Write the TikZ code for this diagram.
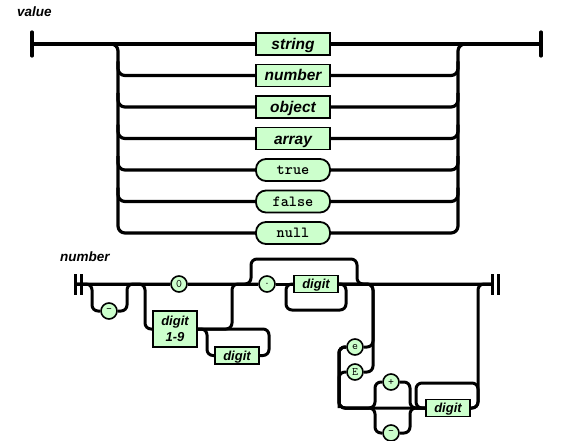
\documentclass[tikz,border=0pt]{standalone}
\usepackage{fontspec}
\setsansfont{Liberation Sans}
\usepackage{tikz}
\definecolor{railgreen}{HTML}{CCFFCC}

\begin{document}
\begin{tikzpicture}[x=1pt,y=-1pt,
  rail/.style={line width=3.2pt,rounded corners=7pt},
  nrail/.style={line width=3pt,rounded corners=6pt},
  endbar/.style={line width=3.2pt,line cap=round},
  title/.style={anchor=west,inner sep=0pt,font=\sffamily\bfseries\itshape\fontsize{13.5}{13.5}\selectfont},
  nonterm/.style={draw,line width=1.8pt,fill=railgreen,minimum width=74pt,minimum height=22pt,inner sep=0pt,text height=11pt,text depth=0pt,font=\sffamily\bfseries\itshape\fontsize{15.5}{15.5}\selectfont},
  term/.style={nonterm,rounded corners=10pt,text height=9pt,font=\ttfamily\bfseries\fontsize{15.5}{15.5}\selectfont},
  digitbox/.style={draw,line width=1.6pt,fill=railgreen,minimum width=44pt,minimum height=17pt,inner sep=0pt,align=center,font=\sffamily\bfseries\itshape\fontsize{13}{16}\selectfont},
  digitline/.style={digitbox,text height=9.5pt,text depth=0pt},
  lit/.style={circle,draw,line width=1.6pt,fill=railgreen,minimum size=16pt,inner sep=0pt,font=\ttfamily\fontsize{11.5}{11.5}\selectfont}]
\useasboundingbox (0,0) rectangle (580,441);

% value
\node[title] (valuelbl) at (17,12) {value};
\coordinate (vin) at (32,44);
\coordinate (vout) at (541,44);
\coordinate (lrail) at (118,44);
\coordinate (rrail) at (458,44);
\node[nonterm] (string) at (293,44) {string};
\node[nonterm] (number) at (293,75.5) {number};
\node[nonterm] (object) at (293,107) {object};
\node[nonterm] (array) at (293,138.5) {array};
\node[term] (true) at (293,170) {true};
\node[term] (false) at (293,201.5) {false};
\node[term] (null) at (293,233) {null};
\draw[endbar] (32,32) -- (32,56);
\draw[endbar] (541,32) -- (541,56);
\draw[rail] (vin) -- (string) -- (vout);
\draw[rail] (vin) -| (118,233) -- (null);
\draw[rail] (null) -| (rrail) -- (vout);
\foreach \row/\y in {number/75.5,object/107,array/138.5,true/170,false/201.5}
{
  \draw[rail] (118,\y-14) |- (\row);
  \draw[rail] (\row) -| (458,\y-14);
}

% number
\node[title] (numberlbl) at (60,257) {number};
\coordinate (nin) at (75,284);
\coordinate (nout) at (492,284);
\node[lit] (zero) at (179,284) {0};
\node[lit] (neg) at (109,311) {-};
\node[digitbox,minimum height=36pt] (d19) at (175,329) {digit\\1-9};
\node[digitline] (dint) at (237,355.5) {digit};
\node[lit] (dot) at (267,284) {.};
\node[digitline] (dfrac) at (316,284) {digit};
\node[lit] (e) at (355,347) {e};
\node[lit] (E) at (355,372) {E};
\node[lit] (plus) at (391,382) {+};
\node[lit] (minus) at (391,433) {-};
\node[digitline] (dexp) at (448,408) {digit};
\draw[line width=3pt] (75,274) -- (75,295);
\draw[line width=3pt] (81,274) -- (81,295);
\draw[line width=3pt] (492,274) -- (492,295);
\draw[line width=3pt] (498,274) -- (498,295);
\draw[nrail] (nin) -- (zero) -- (dot) -- (dfrac) -- (nout);
\draw[nrail] (nin) -| (92,311) -- (neg);
\draw[nrail] (neg) -| (127,284) -- (zero);
\draw[nrail] (nin) -| (145,329) -- (d19);
\draw[nrail] (d19) -| (232,284) -- (dot);
\draw[nrail] (d19) -| (207,355.5) -- (dint);
\draw[nrail] (dint) -| (269,329) -- (d19);
\draw[nrail] (zero) -| (251,259) -| (357,284) -- (nout);
\draw[nrail] (dfrac) -| (346,310) -| (286,284) -- (dfrac);
\draw[nrail] (dfrac) -| (373,372) -- (E);
\draw[nrail] (dfrac) -| (373,347) -- (e);
\draw[nrail] (e) -| (339,408) -- (dexp);
\draw[nrail] (E) -| (339,408);
\draw[nrail] (e) -| (339,408) -| (375,382) -- (plus);
\draw[nrail] (e) -| (339,408) -| (375,433) -- (minus);
\draw[nrail] (plus) -| (410,408) -- (dexp);
\draw[nrail] (minus) -| (410,408) -- (dexp);
\draw[nrail] (dexp) -| (478,383) -| (416,408) -- (dexp);
\draw[nrail] (dexp) -| (478,284) -- (nout);
\end{tikzpicture}
\end{document}
